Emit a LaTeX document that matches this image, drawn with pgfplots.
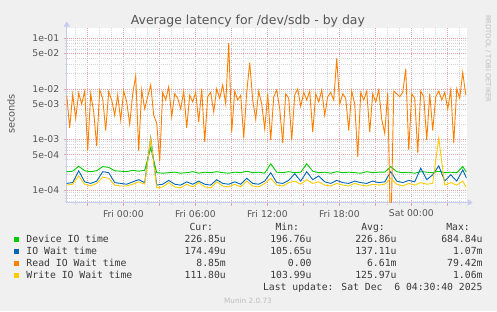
\documentclass[border=0pt]{standalone}
\usepackage{fontspec}
\setmainfont{DejaVu Sans}
\newfontfamily\monofont{DejaVu Sans Mono}
\usepackage{pgfplots}
\pgfplotsset{compat=1.18}
\usetikzlibrary{arrows.meta}
\definecolor{bgc}{HTML}{F0F0F0}
\definecolor{cgreen}{HTML}{00CC00}
\definecolor{cblue}{HTML}{0066B3}
\definecolor{corange}{HTML}{FF8000}
\definecolor{cyellow}{HTML}{FFCC00}
\definecolor{majgrid}{HTML}{E6A3A3}
\definecolor{mingrid}{HTML}{D6D6D6}
\definecolor{axcol}{HTML}{C5CCF0}
\definecolor{txt}{HTML}{555555}
\definecolor{legtxt}{HTML}{3A3A3A}
\definecolor{faint}{HTML}{BDBDBD}
\begin{document}
\begin{tikzpicture}[x=1bp,y=1bp]
\useasboundingbox[fill=bgc] (0,0) rectangle (497,311);
\begin{axis}[
  at={(66.7bp,108.5bp)}, anchor=south west,
  width=400bp, height=175bp, scale only axis,
  ymode=log, xmin=-4.72, xmax=28.61, ymin=5.66e-5, ymax=0.163,
  axis background/.style={fill=white},
  axis lines=left,
  axis line style={draw=axcol, line width=0.8bp},
  x axis line style={-{Triangle[length=5bp,width=6bp]}, shorten >=-6bp},
  y axis line style={-{Triangle[length=5bp,width=6bp]}, shorten >=-6bp},
  ytick={1e-4,5e-4,1e-3,5e-3,1e-2,5e-2,1e-1},
  yticklabels={1e-04,5e-04,1e-03,5e-03,1e-02,5e-02,1e-01},
  minor ytick={6e-5,7e-5,8e-5,9e-5,2e-4,3e-4,4e-4,6e-4,7e-4,8e-4,9e-4,2e-3,3e-3,4e-3,6e-3,7e-3,8e-3,9e-3,2e-2,3e-2,4e-2,6e-2,7e-2,8e-2,9e-2},
  xtick={-3,0,3,6,9,12,15,18,21,24,27},
  xticklabels={,Fri 00:00,,Fri 06:00,,Fri 12:00,,Fri 18:00,,Sat 00:00,},
  minor xtick={-4,-2,-1,1,2,4,5,7,8,10,11,13,14,16,17,19,20,22,23,25,26,28},
  grid=both,
  major grid style={majgrid, dash pattern=on 1bp off 1bp, line width=0.6bp},
  minor grid style={mingrid, dash pattern=on 1bp off 1bp, line width=0.6bp},
  tick align=outside,
  major tick length=3bp, minor tick length=2bp,
  major tick style={majgrid, line width=0.6bp},
  minor tick style={mingrid, line width=0.6bp},
  tick label style={font=\fontsize{9.3}{10}\selectfont, text=txt},
  yticklabel style={xshift=-1bp},
  xticklabel style={yshift=-1bp},
  /pgf/number format/assume math mode=true,
  title={Average latency for /dev/sdb - by day},
  title style={at={(axis description cs:0.453,1)}, anchor=base, yshift=-3.02bp, font=\fontsize{12.5}{14}\selectfont, text=txt},
]
% Device IO time
\addplot[cgreen, line width=0.9bp] coordinates {
(-4.72,2.30e-4)(-4.22,2.35e-4)(-3.72,2.95e-4)(-3.22,2.40e-4)(-2.72,2.30e-4)(-2.22,2.40e-4)(-1.72,2.90e-4)(-1.22,2.80e-4)(-0.72,2.40e-4)(-0.22,2.35e-4)
(0.28,2.30e-4)(0.78,2.45e-4)(1.28,2.35e-4)(1.78,2.45e-4)(2.28,6.85e-4)(2.78,2.20e-4)(3.28,2.15e-4)(3.78,2.20e-4)(4.28,2.25e-4)(4.78,2.15e-4)
(5.28,2.20e-4)(5.78,2.30e-4)(6.28,2.15e-4)(6.78,2.25e-4)(7.28,2.20e-4)(7.78,2.30e-4)(8.28,2.20e-4)(8.78,2.15e-4)(9.28,2.25e-4)(9.78,2.20e-4)
(10.28,2.35e-4)(10.78,2.20e-4)(11.28,2.25e-4)(11.78,2.15e-4)(12.28,3.30e-4)(12.78,2.25e-4)(13.28,2.20e-4)(13.78,2.30e-4)(14.28,2.20e-4)(14.78,2.25e-4)
(15.28,3.30e-4)(15.78,2.35e-4)(16.28,2.20e-4)(16.78,2.25e-4)(17.28,2.15e-4)(17.78,2.30e-4)(18.28,2.20e-4)(18.78,2.25e-4)(19.28,2.20e-4)(19.78,2.15e-4)
(20.28,2.30e-4)(20.78,2.20e-4)(21.28,2.25e-4)(21.78,2.25e-4)(22.28,2.90e-4)(22.78,2.30e-4)(23.28,2.20e-4)(23.78,2.25e-4)(24.28,2.15e-4)(24.78,2.30e-4)
(25.28,2.25e-4)(25.78,2.20e-4)(26.28,2.35e-4)(26.78,2.20e-4)(27.28,2.25e-4)(27.78,2.20e-4)(28.28,2.90e-4)(28.58,2.27e-4)
};
% IO Wait time
\addplot[cblue, line width=0.9bp] coordinates {
(-4.72,1.35e-4)(-4.22,1.40e-4)(-3.72,2.40e-4)(-3.22,1.45e-4)(-2.72,1.35e-4)(-2.22,1.50e-4)(-1.72,2.30e-4)(-1.22,2.20e-4)(-0.72,1.40e-4)(-0.22,1.35e-4)
(0.28,1.30e-4)(0.78,1.45e-4)(1.28,1.60e-4)(1.78,1.40e-4)(2.28,1.07e-3)(2.78,1.25e-4)(3.28,1.30e-4)(3.78,1.55e-4)(4.28,1.30e-4)(4.78,1.25e-4)
(5.28,1.45e-4)(5.78,1.30e-4)(6.28,1.50e-4)(6.78,1.30e-4)(7.28,1.25e-4)(7.78,1.60e-4)(8.28,1.35e-4)(8.78,1.30e-4)(9.28,1.45e-4)(9.78,1.30e-4)
(10.28,1.70e-4)(10.78,1.35e-4)(11.28,1.30e-4)(11.78,1.50e-4)(12.28,2.20e-4)(12.78,1.40e-4)(13.28,1.35e-4)(13.78,1.55e-4)(14.28,2.10e-4)(14.78,1.50e-4)
(15.28,2.30e-4)(15.78,1.60e-4)(16.28,1.90e-4)(16.78,1.45e-4)(17.28,1.35e-4)(17.78,1.55e-4)(18.28,1.40e-4)(18.78,1.35e-4)(19.28,1.50e-4)(19.78,1.40e-4)
(20.28,1.35e-4)(20.78,1.50e-4)(21.28,1.40e-4)(21.78,1.45e-4)(22.28,2.30e-4)(22.78,1.50e-4)(23.28,1.40e-4)(23.78,1.55e-4)(24.28,1.45e-4)(24.78,2.70e-4)
(25.28,1.60e-4)(25.78,2.00e-4)(26.28,3.00e-4)(26.78,1.50e-4)(27.28,2.00e-4)(27.78,1.50e-4)(28.28,2.50e-4)(28.58,1.74e-4)
};
% Read IO Wait time
\addplot[corange, line width=0.9bp] coordinates {
(-4.72,7.5e-3)(-4.47,1.7e-3)(-4.22,7.8e-3)(-3.97,2.6e-3)(-3.72,8.2e-3)(-3.47,5.0e-3)(-3.22,9.0e-3)(-2.97,6.0e-4)(-2.72,8.0e-3)(-2.47,3.5e-3)
(-2.22,7.4e-4)(-1.97,9.5e-3)(-1.72,6.5e-3)(-1.47,1.5e-3)(-1.22,8.8e-3)(-0.97,6.0e-3)(-0.72,3.0e-3)(-0.47,7.5e-3)(-0.22,2.4e-3)(0.03,9.0e-3)
(0.28,5.5e-3)(0.53,2.0e-3)(0.78,8.0e-3)(1.03,1.8e-2)(1.28,6.0e-4)(1.53,9.5e-3)(1.78,4.0e-3)(2.03,7.0e-3)(2.28,1.2e-2)(2.53,3.0e-3)
(2.78,2.1e-3)(3.03,3.7e-4)(3.28,8.5e-3)(3.53,6.0e-3)(3.78,1.1e-2)(4.03,2.8e-3)(4.28,8.0e-3)(4.53,6.5e-3)(4.78,4.0e-3)(5.03,9.0e-3)
(5.28,1.7e-3)(5.53,7.5e-3)(5.78,5.5e-3)(6.03,8.5e-3)(6.28,2.2e-3)(6.53,1.0e-2)(6.78,9.0e-4)(7.03,7.0e-3)(7.28,8.5e-3)(7.53,3.5e-3)
(7.78,1.0e-2)(8.03,6.5e-3)(8.28,1.2e-2)(8.53,5.0e-3)(8.78,8.0e-2)(9.03,1.4e-3)(9.28,9.0e-3)(9.53,6.0e-3)(9.78,7.5e-3)(10.03,1.07e-3)
(10.28,8.5e-3)(10.53,3.3e-2)(10.78,6.0e-3)(11.03,2.5e-3)(11.28,9.0e-3)(11.53,5.0e-3)(11.78,1.6e-3)(12.03,8.0e-3)(12.28,9.7e-4)(12.53,7.0e-3)
(12.78,9.5e-3)(13.03,4.0e-3)(13.28,8.5e-4)(13.53,8.0e-3)(13.78,6.5e-3)(14.03,9.7e-4)(14.28,7.5e-3)(14.53,1.0e-2)(14.78,4.5e-3)(15.03,8.5e-3)
(15.28,6.0e-3)(15.53,9.0e-3)(15.78,1.4e-3)(16.03,8.0e-3)(16.28,5.5e-3)(16.53,9.5e-3)(16.78,3.0e-3)(17.03,7.0e-3)(17.28,8.5e-3)(17.53,6.0e-3)
(17.78,4.0e-2)(18.03,5.0e-3)(18.28,8.0e-3)(18.53,6.5e-3)(18.78,1.5e-3)(19.03,9.0e-3)(19.28,5.0e-3)(19.53,4.5e-4)(19.78,8.5e-3)(20.03,6.0e-3)
(20.28,9.0e-3)(20.53,1.4e-3)(20.78,8.0e-3)(21.03,5.5e-3)(21.28,9.5e-3)(21.53,2.5e-3)(21.78,1.3e-3)(22.03,8.5e-3)(22.28,1.0e-5)(22.53,9.0e-3)
(22.78,8.0e-3)(23.03,7.0e-3)(23.28,8.5e-3)(23.53,2.5e-2)(23.78,6.2e-4)(24.03,8.0e-3)(24.28,6.5e-3)(24.53,5.4e-4)(24.78,9.0e-3)(25.03,7.0e-3)
(25.28,9.7e-4)(25.53,8.0e-3)(25.78,1.5e-3)(26.03,7.0e-3)(26.28,9.0e-3)(26.53,6.0e-3)(26.78,8.5e-3)(27.03,4.0e-3)(27.28,9.5e-3)(27.53,8.5e-4)
(27.78,1.0e-2)(28.03,6.5e-3)(28.28,2.1e-2)(28.53,7.5e-3)
};
% Write IO Wait time
\addplot[cyellow, line width=0.9bp] coordinates {
(-4.72,1.25e-4)(-4.22,1.30e-4)(-3.72,1.90e-4)(-3.22,1.30e-4)(-2.72,1.20e-4)(-2.22,1.35e-4)(-1.72,1.80e-4)(-1.22,1.70e-4)(-0.72,1.25e-4)(-0.22,1.20e-4)
(0.28,1.20e-4)(0.78,1.30e-4)(1.28,1.45e-4)(1.78,1.30e-4)(2.28,1.06e-3)(2.78,1.10e-4)(3.28,1.15e-4)(3.78,1.40e-4)(4.28,1.15e-4)(4.78,1.10e-4)
(5.28,1.30e-4)(5.78,1.15e-4)(6.28,1.40e-4)(6.78,1.15e-4)(7.28,1.10e-4)(7.78,1.45e-4)(8.28,1.20e-4)(8.78,1.15e-4)(9.28,1.30e-4)(9.78,1.15e-4)
(10.28,1.50e-4)(10.78,1.20e-4)(11.28,1.15e-4)(11.78,1.35e-4)(12.28,1.70e-4)(12.78,1.25e-4)(13.28,1.20e-4)(13.78,1.40e-4)(14.28,1.50e-4)(14.78,1.30e-4)
(15.28,1.60e-4)(15.78,1.35e-4)(16.28,1.45e-4)(16.78,1.25e-4)(17.28,1.20e-4)(17.78,1.35e-4)(18.28,1.25e-4)(18.78,1.20e-4)(19.28,1.35e-4)(19.78,1.25e-4)
(20.28,1.20e-4)(20.78,1.30e-4)(21.28,1.25e-4)(21.78,1.30e-4)(22.28,1.70e-4)(22.78,1.30e-4)(23.28,1.20e-4)(23.78,1.35e-4)(24.28,1.25e-4)(24.78,1.40e-4)
(25.28,1.30e-4)(25.78,1.35e-4)(26.28,1.06e-3)(26.78,1.25e-4)(27.28,1.40e-4)(27.78,1.25e-4)(28.28,1.50e-4)(28.58,1.12e-4)
};
\end{axis}
% y label
\node[rotate=90, inner sep=0pt, text=txt, font=\fontsize{9.8}{11}\selectfont] at (11,197) {seconds};
% right-side credit
\node[rotate=-90, anchor=west, inner sep=0pt, text=faint, font=\fontsize{6.8}{8}\selectfont] at (488,296) {RRDTOOL / TOBI OETIKER};
% legend
\begin{scope}[every node/.style={inner sep=0pt, text=legtxt, font=\monofont\fontsize{9.8}{11}\selectfont}]
\node[anchor=base east] at (213.3,80.5) {Cur:};
\node[anchor=base east] at (299.3,80.5) {Min:};
\node[anchor=base east] at (385,80.5) {Avg:};
\node[anchor=base east] at (470,80.5) {Max:};
\fill[cgreen] (14,68.7) rectangle (19.3,74);
\fill[cblue] (14,56.7) rectangle (19.3,62);
\fill[corange] (14,44.7) rectangle (19.3,50);
\fill[cyellow] (14,32.7) rectangle (19.3,38);
\node[anchor=base west] at (26.3,68.7) {Device IO time};
\node[anchor=base west] at (26.3,56.7) {IO Wait time};
\node[anchor=base west] at (26.3,44.7) {Read IO Wait time};
\node[anchor=base west] at (26.3,32.7) {Write IO Wait time};
\node[anchor=base east] at (226,68.7) {226.85u};
\node[anchor=base east] at (311.7,68.7) {196.76u};
\node[anchor=base east] at (396.7,68.7) {226.86u};
\node[anchor=base east] at (482.7,68.7) {684.84u};
\node[anchor=base east] at (226,56.7) {174.49u};
\node[anchor=base east] at (311.7,56.7) {105.65u};
\node[anchor=base east] at (396.7,56.7) {137.11u};
\node[anchor=base east] at (482.7,56.7) {1.07m};
\node[anchor=base east] at (226,44.7) {8.85m};
\node[anchor=base east] at (311.7,44.7) {0.00};
\node[anchor=base east] at (396.7,44.7) {6.61m};
\node[anchor=base east] at (482.7,44.7) {79.42m};
\node[anchor=base east] at (226,32.7) {111.80u};
\node[anchor=base east] at (311.7,32.7) {103.99u};
\node[anchor=base east] at (396.7,32.7) {125.97u};
\node[anchor=base east] at (482.7,32.7) {1.06m};
\node[anchor=base east] at (482.7,20.7) {Last update: Sat Dec\ \ 6 04:30:40 2025};
\end{scope}
\node[anchor=base, inner sep=0pt, text=faint, font=\fontsize{7.3}{8}\selectfont] at (248,8) {Munin 2.0.73};
\end{tikzpicture}
\end{document}
